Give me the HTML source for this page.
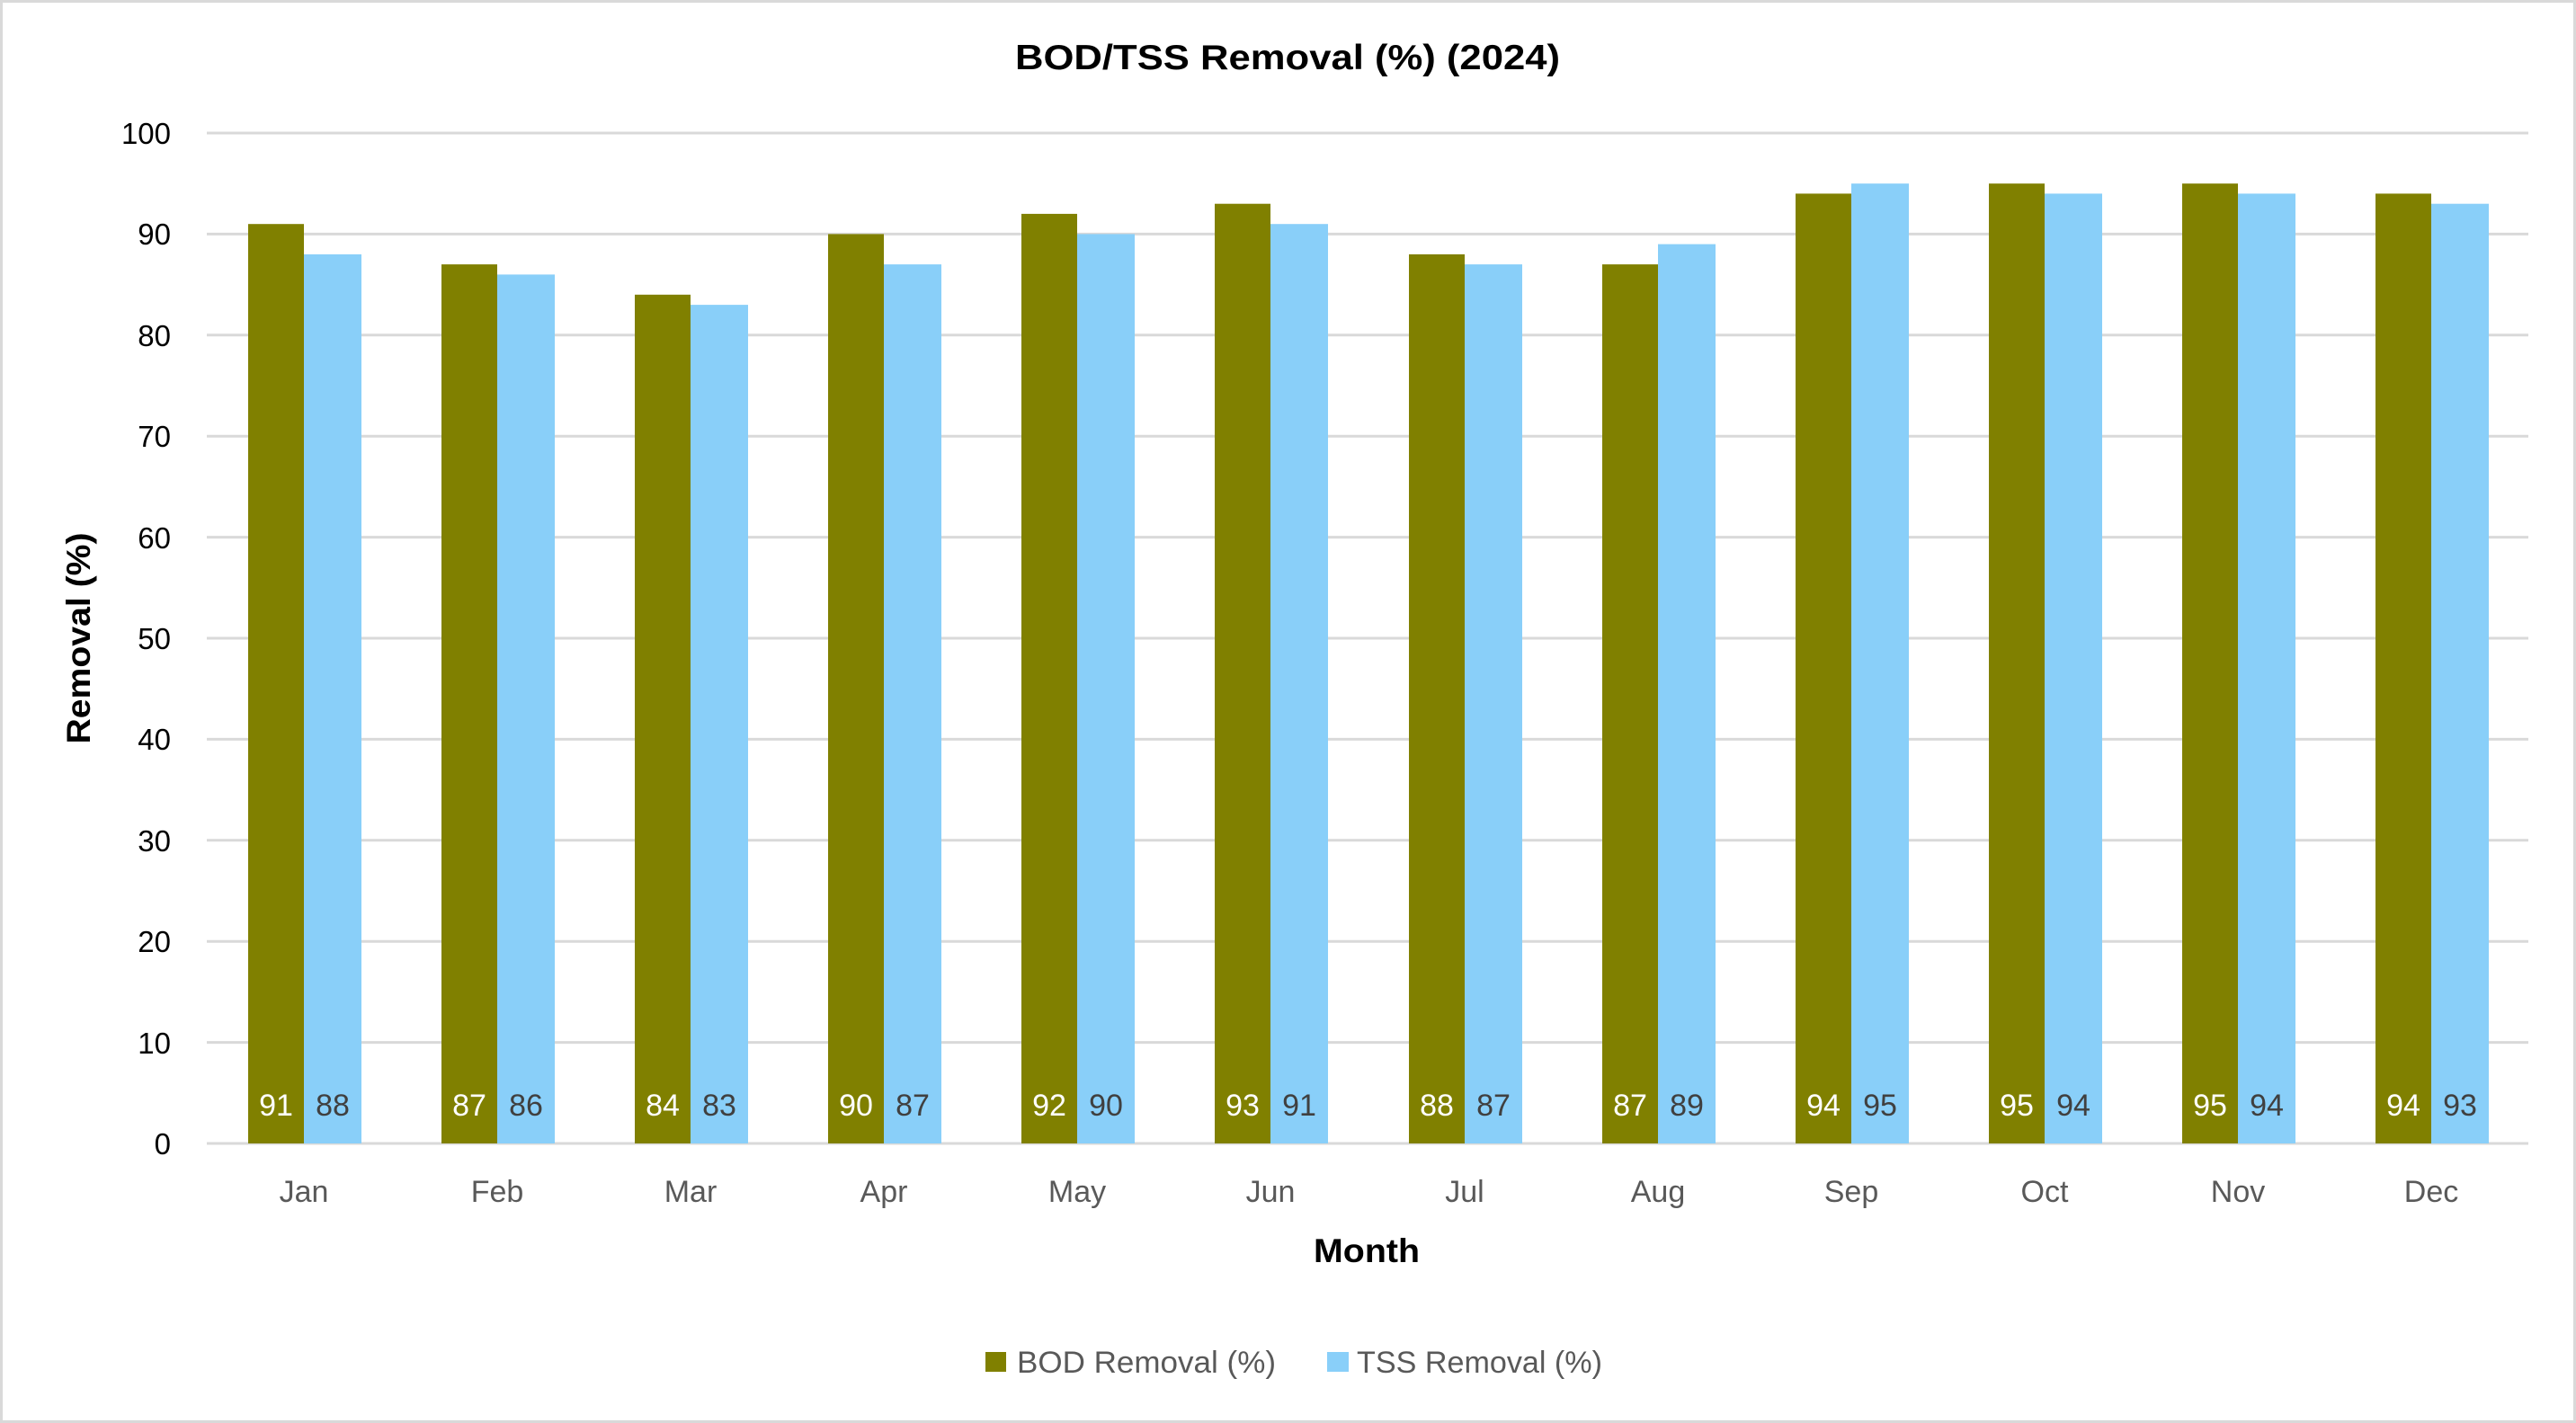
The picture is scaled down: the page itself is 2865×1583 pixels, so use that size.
<!DOCTYPE html>
<html><head><meta charset="utf-8"><style>
html,body{margin:0;padding:0;background:#fff;}
svg{display:block;font-family:"Liberation Sans",sans-serif;}
</style></head><body>
<svg width="2865" height="1583" viewBox="0 0 2865 1583" xmlns="http://www.w3.org/2000/svg">
<rect x="1.5" y="1.5" width="2862" height="1580" fill="#fff" stroke="#d9d9d9" stroke-width="3"/>
<text x="1432" y="77" text-anchor="middle" font-size="39" font-weight="bold" fill="#000" textLength="606" lengthAdjust="spacingAndGlyphs">BOD/TSS Removal (%) (2024)</text>
<g stroke="#d9d9d9" stroke-width="3">
<line x1="230" x2="2812" y1="148" y2="148"/><line x1="230" x2="2812" y1="260.4" y2="260.4"/>
<line x1="230" x2="2812" y1="372.8" y2="372.8"/><line x1="230" x2="2812" y1="485.2" y2="485.2"/>
<line x1="230" x2="2812" y1="597.6" y2="597.6"/><line x1="230" x2="2812" y1="710" y2="710"/>
<line x1="230" x2="2812" y1="822.4" y2="822.4"/><line x1="230" x2="2812" y1="934.8" y2="934.8"/>
<line x1="230" x2="2812" y1="1047.2" y2="1047.2"/><line x1="230" x2="2812" y1="1159.6" y2="1159.6"/>
<line x1="230" x2="2812" y1="1272" y2="1272"/>
</g>
<g font-size="33" fill="#000" text-anchor="end">
<text x="190" y="160">100</text><text x="190" y="272">90</text><text x="190" y="385">80</text>
<text x="190" y="497">70</text><text x="190" y="610">60</text><text x="190" y="722">50</text>
<text x="190" y="834">40</text><text x="190" y="947">30</text><text x="190" y="1059">20</text>
<text x="190" y="1172">10</text><text x="190" y="1284">0</text>
</g>
<g fill="#808000">
<rect x="276" y="249.2" width="62" height="1022.8"/>
<rect x="491" y="294.1" width="62" height="977.9"/>
<rect x="706" y="327.8" width="62" height="944.2"/>
<rect x="921" y="260.4" width="62" height="1011.6"/>
<rect x="1136" y="237.9" width="62" height="1034.1"/>
<rect x="1351" y="226.7" width="62" height="1045.3"/>
<rect x="1567" y="282.9" width="62" height="989.1"/>
<rect x="1782" y="294.1" width="62" height="977.9"/>
<rect x="1997" y="215.4" width="62" height="1056.6"/>
<rect x="2212" y="204.2" width="62" height="1067.8"/>
<rect x="2427" y="204.2" width="62" height="1067.8"/>
<rect x="2642" y="215.4" width="62" height="1056.6"/>
</g>
<g fill="#89cff9">
<rect x="338" y="282.9" width="64" height="989.1"/>
<rect x="553" y="305.4" width="64" height="966.6"/>
<rect x="768" y="339.1" width="64" height="932.9"/>
<rect x="983" y="294.1" width="64" height="977.9"/>
<rect x="1198" y="260.4" width="64" height="1011.6"/>
<rect x="1413" y="249.2" width="64" height="1022.8"/>
<rect x="1629" y="294.1" width="64" height="977.9"/>
<rect x="1844" y="271.6" width="64" height="1000.4"/>
<rect x="2059" y="204.2" width="64" height="1067.8"/>
<rect x="2274" y="215.4" width="64" height="1056.6"/>
<rect x="2489" y="215.4" width="64" height="1056.6"/>
<rect x="2704" y="226.7" width="64" height="1045.3"/>
</g>
<g font-size="34" fill="#fff" text-anchor="middle">
<text x="307" y="1241">91</text><text x="522" y="1241">87</text><text x="737" y="1241">84</text>
<text x="952" y="1241">90</text><text x="1167" y="1241">92</text><text x="1382" y="1241">93</text>
<text x="1598" y="1241">88</text><text x="1813" y="1241">87</text><text x="2028" y="1241">94</text>
<text x="2243" y="1241">95</text><text x="2458" y="1241">95</text><text x="2673" y="1241">94</text>
</g>
<g font-size="34" fill="#404040" text-anchor="middle">
<text x="370" y="1241">88</text><text x="585" y="1241">86</text><text x="800" y="1241">83</text>
<text x="1015" y="1241">87</text><text x="1230" y="1241">90</text><text x="1445" y="1241">91</text>
<text x="1661" y="1241">87</text><text x="1876" y="1241">89</text><text x="2091" y="1241">95</text>
<text x="2306" y="1241">94</text><text x="2521" y="1241">94</text><text x="2736" y="1241">93</text>
</g>
<g font-size="34" fill="#595959" text-anchor="middle">
<text x="338" y="1337">Jan</text><text x="553" y="1337">Feb</text><text x="768" y="1337">Mar</text>
<text x="983" y="1337">Apr</text><text x="1198" y="1337">May</text><text x="1413" y="1337">Jun</text>
<text x="1629" y="1337">Jul</text><text x="1844" y="1337">Aug</text><text x="2059" y="1337">Sep</text>
<text x="2274" y="1337">Oct</text><text x="2489" y="1337">Nov</text><text x="2704" y="1337">Dec</text>
</g>
<text x="1520" y="1404" text-anchor="middle" font-size="37" font-weight="bold" textLength="118" lengthAdjust="spacingAndGlyphs">Month</text>
<text transform="translate(100,710) rotate(-90)" text-anchor="middle" font-size="37" font-weight="bold" textLength="235" lengthAdjust="spacingAndGlyphs">Removal (%)</text>
<rect x="1096" y="1504" width="23" height="22" fill="#808000"/>
<text x="1131" y="1527" font-size="34" fill="#595959" textLength="288" lengthAdjust="spacingAndGlyphs">BOD Removal (%)</text>
<rect x="1476" y="1504" width="24" height="22" fill="#89cff9"/>
<text x="1509" y="1527" font-size="34" fill="#595959" textLength="273" lengthAdjust="spacingAndGlyphs">TSS Removal (%)</text>
</svg>
</body></html>
